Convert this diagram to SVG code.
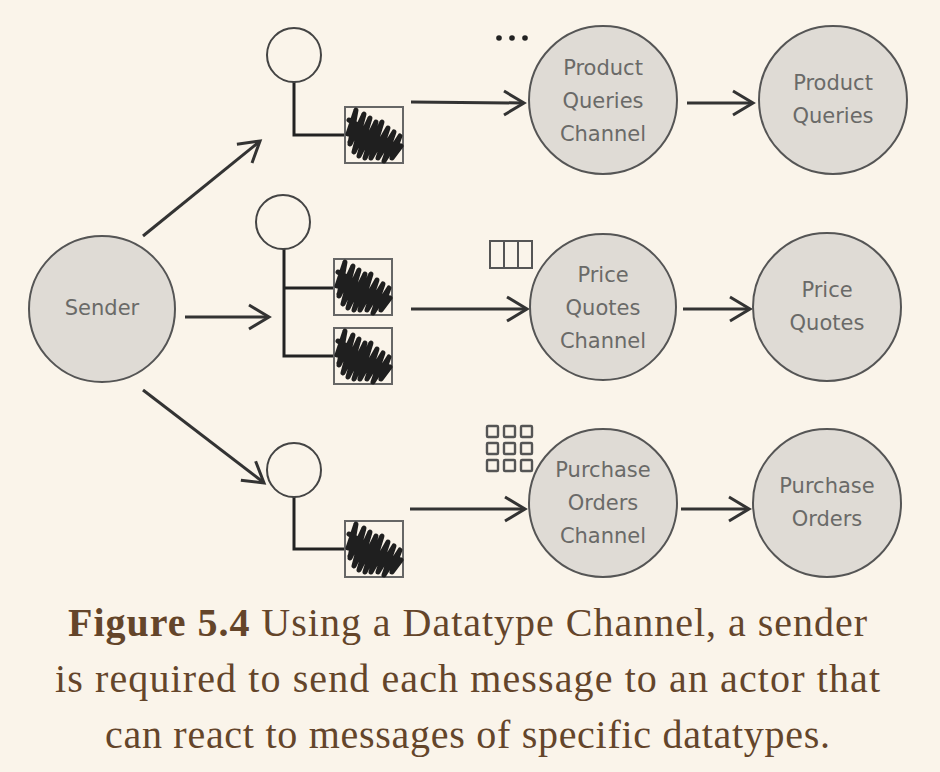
<svg xmlns="http://www.w3.org/2000/svg" width="940" height="772" viewBox="0 0 940 772">
<defs>
<g id="scribble"><path d="M2 26 L10 2 L4 36 L18 6 L8 44 L24 10 L13 48 L30 14 L19 50 L36 14 L25 50 L42 20 L32 50 L48 24 L38 53 L54 28 L46 50 L55 38 M3 12 L20 22 M4 34 L14 16" fill="none" stroke="#1f1f1f" stroke-width="5" stroke-linecap="round" stroke-linejoin="round"/></g>
<g id="arrowhead"><path d="M-20 -12 L0 0 L-20 12" fill="none" stroke="#333" stroke-width="3" stroke-linejoin="miter"/></g>
</defs>
<style>
text{font-family:"Liberation Sans",Arial,sans-serif}
.big{fill:#dfdbd5;stroke:#555;stroke-width:2}
.lab{font-family:"DejaVu Sans",sans-serif;font-size:21px;fill:#6a6a68;text-anchor:middle}
.actor{fill:#faf4ea;stroke:#444;stroke-width:2}
.box{fill:#faf4ea;stroke:#666;stroke-width:2}
.wire{fill:none;stroke:#222;stroke-width:3}
.line{fill:none;stroke:#333;stroke-width:3}
.cap{font-family:"Liberation Serif","Times New Roman",serif;font-size:40px;fill:#64452a}
.gl{fill:none;stroke:#555;stroke-width:2}
</style>
<rect width="940" height="772" fill="#faf4ea"/>
<g id="connectors">
<path class="line" d="M143 236 L259 142"/><use href="#arrowhead" transform="translate(260,141) rotate(-39)"/>
<path class="line" d="M185 317 L268 317"/><use href="#arrowhead" transform="translate(269,317)"/>
<path class="line" d="M143 390 L263 482"/><use href="#arrowhead" transform="translate(264,483) rotate(38)"/>
<path class="line" d="M411 102 L523 103"/><use href="#arrowhead" transform="translate(524,103)"/>
<path class="line" d="M411 309 L526 309"/><use href="#arrowhead" transform="translate(527,309)"/>
<path class="line" d="M410 509 L524 509"/><use href="#arrowhead" transform="translate(525,509)"/>
<path class="line" d="M687 103 L752 103"/><use href="#arrowhead" transform="translate(753,103)"/>
<path class="line" d="M683 309 L749 309"/><use href="#arrowhead" transform="translate(750,309)"/>
<path class="line" d="M681 509 L748 509"/><use href="#arrowhead" transform="translate(749,509)"/>
<path class="wire" d="M294 82 V135 H345"/>
<path class="wire" d="M284 249 V356 H334 M284 288 H334"/>
<path class="wire" d="M294 497 V549 H345"/>
</g>
<g id="sender"><circle class="big" cx="102" cy="309" r="73"/><text class="lab" x="102" y="315">Sender</text></g>
<g id="actor-1"><circle class="actor" cx="294" cy="55" r="27"/></g>
<g id="msg-1"><rect class="box" x="345" y="107" width="58" height="56"/><use href="#scribble" transform="translate(346,108)"/></g>
<g id="actor-2"><circle class="actor" cx="283" cy="222" r="27"/></g>
<g id="msg-2a"><rect class="box" x="334" y="259" width="58" height="56"/><use href="#scribble" transform="translate(335,260)"/></g>
<g id="msg-2b"><rect class="box" x="334" y="328" width="58" height="56"/><use href="#scribble" transform="translate(335,329)"/></g>
<g id="actor-3"><circle class="actor" cx="294" cy="470" r="27"/></g>
<g id="msg-3"><rect class="box" x="345" y="521" width="58" height="56"/><use href="#scribble" transform="translate(346,522)"/></g>
<g id="dots"><circle cx="499" cy="38" r="2.8" fill="#222"/><circle cx="512" cy="38" r="2.8" fill="#222"/><circle cx="525" cy="38" r="2.8" fill="#222"/></g>
<g id="glyph-row"><rect class="gl" x="490" y="241" width="42" height="27"/><path class="gl" d="M504 241 V268 M518 241 V268"/></g>
<g id="glyph-grid" fill="none" stroke="#555" stroke-width="2.4">
<rect x="487" y="426" width="11" height="11" rx="1"/><rect x="504" y="426" width="11" height="11" rx="1"/><rect x="521" y="426" width="11" height="11" rx="1"/>
<rect x="487" y="443" width="11" height="11" rx="1"/><rect x="504" y="443" width="11" height="11" rx="1"/><rect x="521" y="443" width="11" height="11" rx="1"/>
<rect x="487" y="460" width="11" height="11" rx="1"/><rect x="504" y="460" width="11" height="11" rx="1"/><rect x="521" y="460" width="11" height="11" rx="1"/>
</g>
<g id="ch-1"><circle class="big" cx="603" cy="100" r="74"/><text class="lab" x="603" y="75">Product</text><text class="lab" x="603" y="108">Queries</text><text class="lab" x="603" y="141">Channel</text></g>
<g id="ch-2"><circle class="big" cx="603" cy="307" r="73"/><text class="lab" x="603" y="282">Price</text><text class="lab" x="603" y="315">Quotes</text><text class="lab" x="603" y="348">Channel</text></g>
<g id="ch-3"><circle class="big" cx="603" cy="503" r="74"/><text class="lab" x="603" y="477">Purchase</text><text class="lab" x="603" y="510">Orders</text><text class="lab" x="603" y="543">Channel</text></g>
<g id="rc-1"><circle class="big" cx="833" cy="100" r="74"/><text class="lab" x="833" y="90">Product</text><text class="lab" x="833" y="123">Queries</text></g>
<g id="rc-2"><circle class="big" cx="827" cy="307" r="74"/><text class="lab" x="827" y="297">Price</text><text class="lab" x="827" y="330">Quotes</text></g>
<g id="rc-3"><circle class="big" cx="827" cy="503" r="74"/><text class="lab" x="827" y="493">Purchase</text><text class="lab" x="827" y="526">Orders</text></g>
<g id="caption">
<text class="cap" x="68" y="636" textLength="799"><tspan font-weight="bold">Figure 5.4</tspan> Using a Datatype Channel, a sender</text>
<text class="cap" x="55" y="692" textLength="825">is required to send each message to an actor that</text>
<text class="cap" x="105" y="748" textLength="725">can react to messages of specific datatypes.</text>
</g>
</svg>
